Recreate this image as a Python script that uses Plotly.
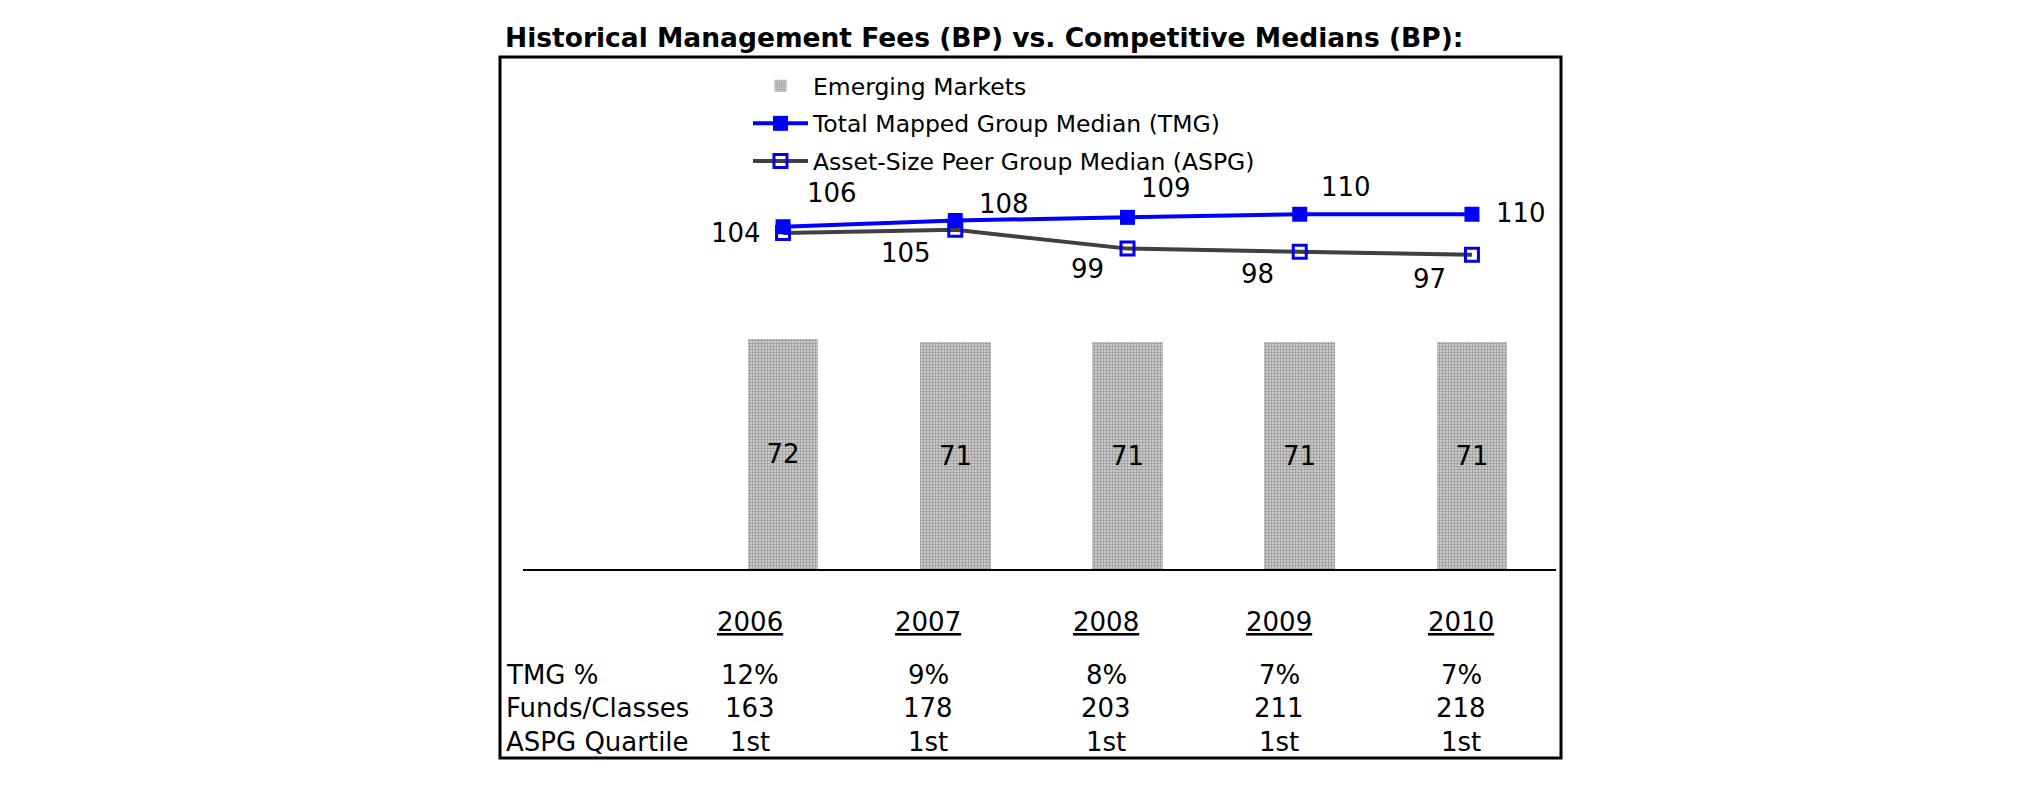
import plotly.graph_objects as go

# ---------------- data ----------------
years = ["2006", "2007", "2008", "2009", "2010"]
emerging_markets = [72, 71, 71, 71, 71]
tmg_median = [106, 108, 109, 110, 110]
aspg_median = [104, 105, 99, 98, 97]

row_labels = ["TMG %", "Funds/Classes", "ASPG Quartile"]
tmg_pct = ["12%", "9%", "8%", "7%", "7%"]
funds_classes = ["163", "178", "203", "211", "218"]
aspg_quartile = ["1st", "1st", "1st", "1st", "1st"]

title_text = "Historical Management Fees (BP) vs. Competitive Medians (BP):"

# ---------------- layout constants (pixels) ----------------
W, H = 2025, 806
FONT = "DejaVu Sans"

def px(x):
    return x / W

def py(y):
    return 1 - y / H

plot_left, plot_right = 523, 1556
plot_top, plot_bottom = 90, 569

# label offsets (pixels) for the line data labels
tmg_dx = [49, 49, 38, 46, 49]
tmg_dy = [34, 17, 29, 27, 1]
aspg_dx = [-47, -49, -40, -42, -42]
aspg_dy = [0, -23, -20, -22, -24]

# table column centres / row centres (pixels)
col_x = [750, 928, 1106, 1279, 1461]
year_y = 622
row_y = [675, 708, 742]
row_label_x = 504

fig = go.Figure()

fig.add_trace(go.Bar(
    x=years, y=emerging_markets, name="Emerging Markets",
    width=0.41,
    marker=dict(color="#bdbdbd",
                line=dict(width=0),
                pattern=dict(shape=".", fgcolor="#5a5a5a", bgcolor="#d6d6d6",
                             size=3, solidity=0.5)),
    text=[str(v) for v in emerging_markets], textposition="inside",
    insidetextanchor="middle", textangle=0,
    textfont=dict(family=FONT, size=26, color="black"),
    legendrank=1, legendgroup="a",
    yaxis="y",
))

fig.add_trace(go.Scatter(
    x=years, y=aspg_median, name="Asset-Size Peer Group Median (ASPG)",
    mode="lines+markers",
    line=dict(color="#404040", width=4),
    marker=dict(symbol="square-open", size=13, color="#0000ee",
                line=dict(width=3, color="#0000ee")),
    legendrank=3, legendgroup="c",
    yaxis="y2",
))

fig.add_trace(go.Scatter(
    x=years, y=tmg_median, name="Total Mapped Group Median (TMG)",
    mode="lines+markers",
    line=dict(color="#0000ff", width=4),
    marker=dict(symbol="square", size=15, color="#0000ff"),
    legendrank=2, legendgroup="b",
    yaxis="y2",
))

annotations = []
lab_font = dict(family=FONT, size=26, color="black")
for i, yr in enumerate(years):
    annotations.append(dict(
        x=i, y=tmg_median[i], xref="x", yref="y2", text=str(tmg_median[i]),
        showarrow=False, xshift=tmg_dx[i], yshift=tmg_dy[i],
        xanchor="center", yanchor="middle", font=lab_font))
    annotations.append(dict(
        x=i, y=aspg_median[i], xref="x", yref="y2", text=str(aspg_median[i]),
        showarrow=False, xshift=aspg_dx[i], yshift=aspg_dy[i],
        xanchor="center", yanchor="middle", font=lab_font))

# table below the chart
tfont = dict(family=FONT, size=26, color="black")
for i, yr in enumerate(years):
    annotations.append(dict(
        x=px(col_x[i]), y=py(year_y), xref="paper", yref="paper",
        text="<u>" + yr + "</u>", showarrow=False,
        xanchor="center", yanchor="middle", font=tfont))
for r, (lab, vals) in enumerate(zip(row_labels, [tmg_pct, funds_classes, aspg_quartile])):
    annotations.append(dict(
        x=px(row_label_x), y=py(row_y[r]), xref="paper", yref="paper",
        text=lab, showarrow=False, xanchor="left", yanchor="middle", font=tfont))
    for i, v in enumerate(vals):
        annotations.append(dict(
            x=px(col_x[i]), y=py(row_y[r]), xref="paper", yref="paper",
            text=v, showarrow=False, xanchor="center", yanchor="middle", font=tfont))

fig.update_layout(
    width=W, height=H,
    margin=dict(l=0, r=0, t=0, b=0),
    paper_bgcolor="white", plot_bgcolor="white",
    font=dict(family=FONT, color="black"),
    title=dict(text="<b>" + title_text + "</b>", x=px(505), xanchor="left",
               y=py(38), yanchor="middle", xref="container", yref="container",
               font=dict(family=FONT, size=26.5, color="black")),
    xaxis=dict(type="category", categoryorder="array", categoryarray=years,
               domain=[px(plot_left), px(plot_right)],
               range=[-1.51, 4.488], showline=True, linecolor="black",
               linewidth=1.5, showticklabels=False, ticks="", showgrid=False,
               zeroline=False),
    yaxis=dict(domain=[py(plot_bottom), py(plot_top)], range=[0, 149.69],
               showticklabels=False, ticks="", showline=False,
               showgrid=False, zeroline=False),
    yaxis2=dict(domain=[py(plot_bottom), py(plot_top)], overlaying="y",
                range=[-3.52, 149.76], showticklabels=False, ticks="",
                showline=False, showgrid=False, zeroline=False),
    legend=dict(x=px(748), y=py(64), xanchor="left", yanchor="top",
                bgcolor="rgba(0,0,0,0)", itemwidth=55, tracegroupgap=4,
                font=dict(family=FONT, size=23.5, color="black")),
    showlegend=True,
    annotations=annotations,
    shapes=[dict(type="rect", xref="paper", yref="paper",
                 x0=px(500), x1=px(1561), y0=py(758), y1=py(57),
                 line=dict(color="black", width=3), fillcolor="rgba(0,0,0,0)",
                 layer="above")],
    bargap=0,
)

fig.write_html("out.html")
